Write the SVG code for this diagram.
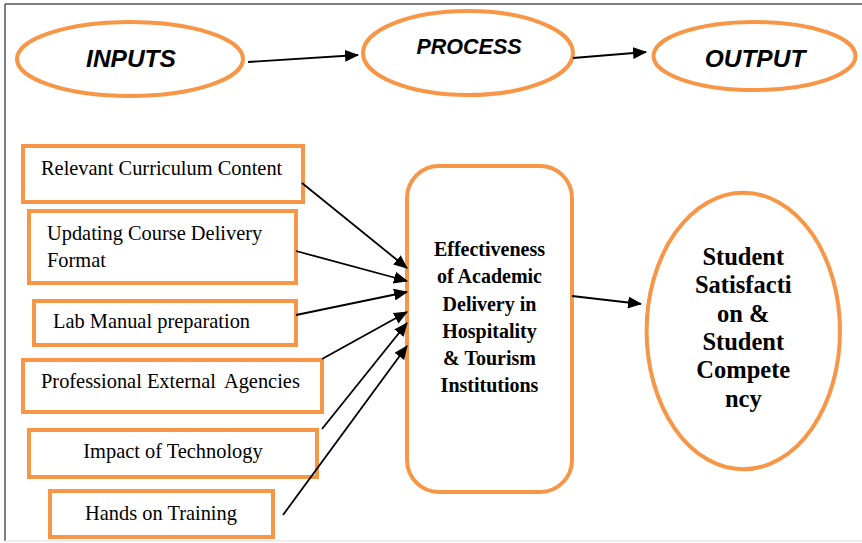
<svg xmlns="http://www.w3.org/2000/svg" width="862" height="543" viewBox="0 0 862 543">
  <style>
    .frame { stroke: #555555; stroke-width: 1.5; fill: none; }
    .shape { fill: #ffffff; stroke: #F79646; stroke-width: 4; }
    .head { font-family: "Liberation Sans", Arial, sans-serif; font-weight: bold; font-style: italic; fill: #000000; text-anchor: middle; }
    .item { font-family: "Liberation Serif", "Times New Roman", serif; font-size: 20.4px; fill: #000000; }
    .core { font-family: "Liberation Serif", "Times New Roman", serif; font-weight: bold; fill: #000000; text-anchor: middle; }
    .link { stroke: #000000; stroke-width: 1.8; fill: none; marker-end: url(#arrow); }
  </style>
  <defs>
    <marker id="arrow" markerUnits="userSpaceOnUse" viewBox="0 0 14 12" refX="13" refY="6" markerWidth="14" markerHeight="12" orient="auto">
      <path d="M0,0 L14,6 L0,12 Z" fill="#000000"/>
    </marker>
  </defs>

  <rect width="862" height="543" fill="#ffffff"/>
  <!-- page frame -->
  <line class="frame" x1="5" y1="4" x2="862" y2="4"/>
  <line class="frame" x1="5" y1="4" x2="5" y2="541"/>
  <line x1="5" y1="541" x2="862" y2="541" stroke="#dddddd" stroke-width="1"/>

  <!-- top row: input / process / output -->
  <g id="inputs">
    <ellipse class="shape" cx="130" cy="59" rx="113" ry="37"/>
    <text class="head" x="131" y="67" font-size="24.5">INPUTS</text>
  </g>
  <g id="process">
    <ellipse class="shape" cx="468" cy="53" rx="105" ry="42"/>
    <text class="head" x="469" y="54" font-size="21.5">PROCESS</text>
  </g>
  <g id="output">
    <ellipse class="shape" cx="754.5" cy="56" rx="101" ry="34"/>
    <text class="head" x="755" y="67" font-size="24.5">OUTPUT</text>
  </g>

  <!-- factor boxes -->
  <g id="curriculum">
    <rect class="shape" x="23" y="146" width="280" height="56"/>
    <text class="item" x="41" y="175">Relevant Curriculum Content</text>
  </g>
  <g id="course-delivery">
    <rect class="shape" x="29" y="211" width="267" height="72"/>
    <text class="item" x="47" y="240">Updating Course Delivery</text>
    <text class="item" x="47" y="267">Format</text>
  </g>
  <g id="lab-manual">
    <rect class="shape" x="34" y="301" width="262" height="44"/>
    <text class="item" x="53" y="328">Lab Manual preparation</text>
  </g>
  <g id="external-agencies">
    <rect class="shape" x="23" y="360" width="299" height="52"/>
    <text class="item" x="41" y="388">Professional External <tspan dx="4">Agencies</tspan></text>
  </g>
  <g id="technology">
    <rect class="shape" x="29" y="430" width="288" height="47"/>
    <text class="item" x="173" y="458" text-anchor="middle">Impact of Technology</text>
  </g>
  <g id="training">
    <rect class="shape" x="50" y="491" width="223" height="46"/>
    <text class="item" x="161" y="520" text-anchor="middle">Hands on Training</text>
  </g>

  <!-- central construct -->
  <g id="effectiveness">
    <rect class="shape" x="407" y="166" width="165" height="326" rx="32" ry="32"/>
    <text class="core" font-size="20" x="489.5" y="256">Effectiveness</text>
    <text class="core" font-size="20" x="489.5" y="283.3">of Academic</text>
    <text class="core" font-size="20" x="489.5" y="311">Delivery in</text>
    <text class="core" font-size="20" x="489.5" y="338.3">Hospitality</text>
    <text class="core" font-size="20" x="489.5" y="365">&amp; Tourism</text>
    <text class="core" font-size="20" x="489.5" y="392.3">Institutions</text>
  </g>

  <!-- outcome -->
  <g id="student-outcome">
    <ellipse class="shape" cx="743.3" cy="331" rx="96.7" ry="138.3"/>
    <text class="core" font-size="24.5" x="743.3" y="265">Student</text>
    <text class="core" font-size="24.5" x="743.3" y="293.3">Satisfacti</text>
    <text class="core" font-size="24.5" x="743.3" y="321.7">on &amp;</text>
    <text class="core" font-size="24.5" x="743.3" y="350">Student</text>
    <text class="core" font-size="24.5" x="743.3" y="378.3">Compete</text>
    <text class="core" font-size="24.5" x="743.3" y="406.7">ncy</text>
  </g>

  <!-- connectors -->
  <g id="connectors">
    <line class="link" x1="248" y1="62" x2="358" y2="55"/>
    <line class="link" x1="573" y1="58" x2="646" y2="52"/>
    <line class="link" x1="302" y1="183" x2="407" y2="268"/>
    <line class="link" x1="296" y1="251" x2="407" y2="281"/>
    <line class="link" x1="296" y1="315" x2="407" y2="292"/>
    <line class="link" x1="322" y1="359" x2="407" y2="312"/>
    <line class="link" x1="322" y1="429" x2="407" y2="323"/>
    <line class="link" x1="283" y1="515" x2="407" y2="346"/>
    <line class="link" x1="572" y1="296" x2="641" y2="304"/>
  </g>
</svg>
